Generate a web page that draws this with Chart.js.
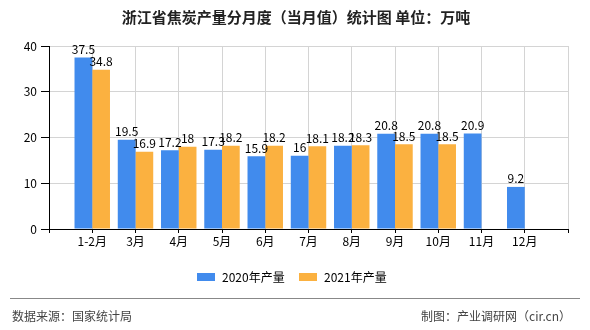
<!DOCTYPE html>
<html>
<head>
<meta charset="utf-8">
<script src="https://cdn.jsdelivr.net/npm/chart.js@4/dist/chart.umd.min.js"></script>
<style>
  html, body { margin: 0; padding: 0; background: #fff; }
  #wrap { width: 590px; height: 330px; position: relative; }
</style>
</head>
<body>
<div id="wrap"><canvas id="myChart" width="590" height="330"></canvas></div>
<script>
// data
const months = ["1-2月", "3月", "4月", "5月", "6月", "7月", "8月", "9月", "10月", "11月", "12月"];
const output2020 = [37.5, 19.5, 17.2, 17.3, 15.9, 16, 18.2, 20.8, 20.8, 20.9, 9.2];
const output2021 = [34.8, 16.9, 18, 18.2, 18.2, 18.1, 18.3, 18.5, 18.5, null, null];
const yTicks = [0, 10, 20, 30, 40];

const BLUE = "#418bed";
const ORANGE = "#fbb140";
const CJK = '"Noto Sans CJK SC", sans-serif';

// empty slot at each end so bars sit on the grid lines like the original
const labels = ["", ...months, ""];
const pad = (arr) => [null, ...arr, null];

const decorPlugin = {
  id: "decor",
  afterDatasetsDraw(chart) {
    const { ctx } = chart;
    ctx.save();
    ctx.fillStyle = "#000";
    ctx.font = "12px " + CJK;
    ctx.textAlign = "center";
    ctx.textBaseline = "bottom";
    chart.data.datasets.forEach((ds, i) => {
      const meta = chart.getDatasetMeta(i);
      meta.data.forEach((bar, j) => {
        const v = ds.data[j];
        if (v == null) return;
        ctx.fillText(String(v), bar.x, bar.y - 2);
      });
    });
    ctx.restore();
  },
  afterDraw(chart) {
    const { ctx } = chart;
    ctx.save();
    // title
    ctx.fillStyle = "#222";
    ctx.font = "bold 15px " + CJK;
    ctx.textAlign = "center";
    ctx.textBaseline = "middle";
    ctx.fillText("浙江省焦炭产量分月度（当月值）统计图 单位：万吨", 296, 17);

    // legend
    ctx.font = "12px " + CJK;
    ctx.textAlign = "left";
    const items = [
      { text: "2020年产量", color: BLUE, x: 197 },
      { text: "2021年产量", color: ORANGE, x: 299 },
    ];
    items.forEach((it) => {
      ctx.fillStyle = it.color;
      ctx.fillRect(it.x, 273, 18, 8);
      ctx.fillStyle = "#000";
      ctx.fillText(it.text, it.x + 25, 277);
    });

    // footer
    ctx.strokeStyle = "#888";
    ctx.lineWidth = 1;
    ctx.beginPath();
    ctx.moveTo(10, 298.5);
    ctx.lineTo(580, 298.5);
    ctx.stroke();
    ctx.fillStyle = "#444";
    ctx.font = "12px " + CJK;
    ctx.fillText("数据来源：国家统计局", 12, 316);
    ctx.textAlign = "right";
    ctx.fillText("制图：产业调研网（cir.cn）", 571, 316);
    ctx.restore();
  },
};

new Chart(document.getElementById("myChart"), {
  type: "bar",
  data: {
    labels: labels,
    datasets: [
      { label: "2020年产量", data: pad(output2020), backgroundColor: BLUE },
      { label: "2021年产量", data: pad(output2021), backgroundColor: ORANGE },
    ],
  },
  options: {
    responsive: false,
    animation: false,
    layout: { padding: { top: 46, right: 22, left: 0, bottom: 0 } },
    plugins: { legend: { display: false }, tooltip: { enabled: false } },
    datasets: { bar: { categoryPercentage: 0.82, barPercentage: 1.0 } },
    scales: {
      x: {
        offset: false,
        grid: { offset: false, color: "#d4d4d4", tickColor: "#000", tickLength: 4 },
        border: { color: "#000" },
        ticks: { color: "#000", font: { size: 12, family: CJK }, padding: 1, autoSkip: false, maxRotation: 0 },
        afterFit(scale) { scale.height = 101; },
      },
      y: {
        min: 0,
        max: 40,
        afterBuildTicks(scale) { scale.ticks = yTicks.map((v) => ({ value: v })); },
        grid: { color: "#d4d4d4", tickColor: "#000", tickLength: 8 },
        border: { color: "#000" },
        ticks: { color: "#000", font: { size: 12, family: CJK }, padding: 4 },
        afterFit(scale) { scale.width = 49; },
      },
    },
  },
  plugins: [decorPlugin],
});
</script>
</body>
</html>
